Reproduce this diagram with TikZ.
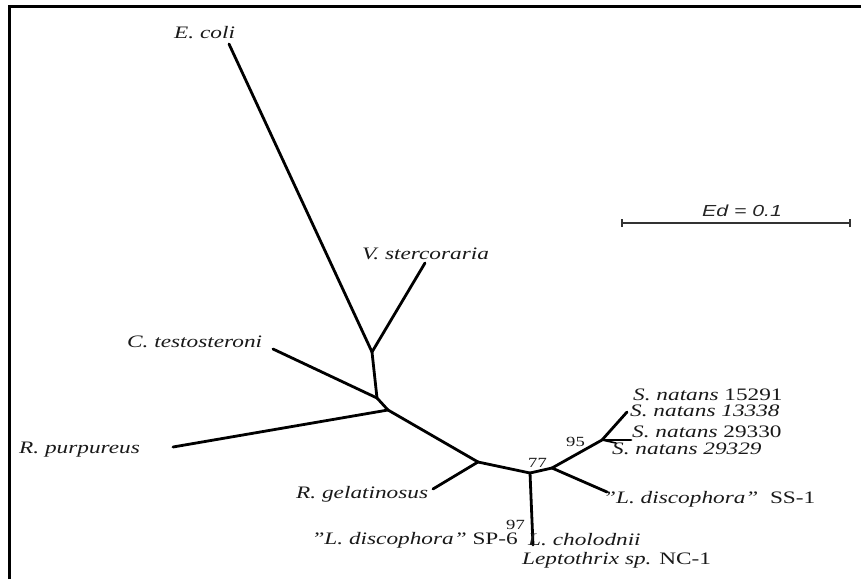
\documentclass[tikz,border=0pt]{standalone}
\usepackage{fontspec}
\usepackage{graphicx}
\setmainfont{Liberation Serif}
\newfontfamily\barfont{Liberation Sans}
\newcommand{\wide}[1]{\scalebox{1.33}[1]{#1}}
\begin{document}
\begin{tikzpicture}[x=1pt,y=-1pt,
  branch/.style={line width=2.8pt,black,line cap=round},
  leaf/.style={anchor=base west,inner sep=0pt,text=black!90,font=\fontsize{17.5}{17.5}\selectfont},
  boot/.style={anchor=base west,inner sep=0pt,text=black!90,font=\fontsize{14}{14}\selectfont},
  framel/.style={line width=3pt,black}]
\useasboundingbox (0,0) rectangle (861,579);
% frame
\coordinate (f1) at (9,579);
\coordinate (f2) at (9,6.5);
\coordinate (f3) at (861,6.5);
\draw[framel] (f1) -- (f2) -- (f3);
% internal nodes
\coordinate (nA) at (372,352);
\coordinate (nB) at (377,398);
\coordinate (nC) at (388,410);
\coordinate (nD) at (478,462);
\coordinate (nE) at (530,473);
\coordinate (nF) at (552,468);
\coordinate (nG) at (602,440);
% tips
\coordinate (tEcoli) at (229,44);
\coordinate (tVst) at (425,263);
\coordinate (tCtest) at (273,349);
\coordinate (tRpur) at (173,447);
\coordinate (tRgel) at (433,489);
\coordinate (tLcho) at (533,545);
\coordinate (tSS) at (607,492);
\coordinate (tSn1) at (627,412);
\coordinate (tSn3) at (631,440);
\coordinate (tSn4) at (616,443);
% branches
\draw[branch] (tEcoli) -- (nA);
\draw[branch] (tVst) -- (nA);
\draw[branch] (nA) -- (nB);
\draw[branch] (tCtest) -- (nB);
\draw[branch] (nB) -- (nC);
\draw[branch] (tRpur) -- (nC);
\draw[branch] (nC) -- (nD);
\draw[branch] (tRgel) -- (nD);
\draw[branch] (nD) -- (nE);
\draw[branch] (nE) -- (tLcho);
\draw[branch] (nE) -- (nF);
\draw[branch] (nF) -- (tSS);
\draw[branch] (nF) -- (nG);
\draw[branch] (nG) -- (tSn1);
\draw[branch] (nG) -- (tSn3);
\draw[branch,line width=1.6pt] (nG) -- (tSn4);
% labels
\node[leaf] (lEcoli) at (174,38) {\wide{\textit{E. coli}}};
\node[leaf] (lVst) at (362,259) {\wide{\textit{V. stercoraria}}};
\node[leaf] (lCtest) at (127,347) {\wide{\textit{C. testosteroni}}};
\node[leaf] (lRpur) at (19,453) {\wide{\textit{R. purpureus}}};
\node[leaf] (lRgel) at (296,498) {\wide{\textit{R. gelatinosus}}};
\node[leaf] (lSn1) at (633,400) {\wide{\textit{S. natans} 15291}};
\node[leaf] (lSn2) at (630,416) {\wide{\textit{S. natans 13338}}};
\node[leaf] (lSn3) at (632,437) {\wide{\textit{S. natans} 29330}};
\node[leaf] (lSn4) at (612,454) {\wide{\textit{S. natans 29329}}};
\node[leaf] (lSS) at (603,503) {\wide{\textit{"L. discophora"} \ SS-1}};
\node[leaf,anchor=base east] (lSP) at (518,544) {\wide{\textit{"L. discophora"} SP-6}};
\node[leaf] (lLcho) at (528,545) {\wide{\textit{L. cholodnii}}};
\node[leaf] (lLep) at (522,564) {\wide{\textit{Leptothrix sp.} NC-1}};
\node[boot] (b95) at (566,446) {\wide{95}};
\node[boot] (b77) at (528,467) {\wide{77}};
\node[boot] (b97) at (506,529) {\wide{97}};
% scale bar
\coordinate (s1) at (622,223);
\coordinate (s2) at (850,223);
\draw[line width=1.5pt,black!80] (s1) -- (s2);
\draw[line width=1.5pt,black!80] ([yshift=-4pt]s1) -- ([yshift=4pt]s1);
\draw[line width=1.5pt,black!80] ([yshift=-4pt]s2) -- ([yshift=4pt]s2);
\node[anchor=base,inner sep=0pt,text=black!85,font=\barfont\itshape\fontsize{16}{16}\selectfont] (lEd) at (742,216) {\wide{Ed = 0.1}};
\end{tikzpicture}
\end{document}
